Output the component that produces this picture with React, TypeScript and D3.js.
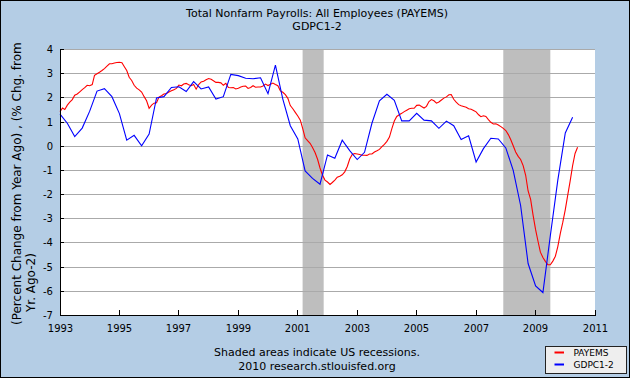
import React from 'react';
import * as d3 from 'd3';

// PAYEMS: percent change from year ago, monthly from Jan 1993
const payemsStart = [1993, 0];
const payemsValues = [
  1.43, 1.58, 1.52, 1.70, 1.82, 1.93, 2.11, 2.16, 2.25, 2.34, 2.42, 2.52,
  2.50, 2.55, 2.93, 3.00, 3.06, 3.13, 3.21, 3.31, 3.41, 3.41, 3.44, 3.46,
  3.47, 3.45, 3.30, 3.13, 2.85, 2.72, 2.52, 2.40, 2.33, 2.24, 2.05, 1.88,
  1.57, 1.70, 1.78, 1.80, 2.03, 2.09, 2.16, 2.18, 2.24, 2.29, 2.34, 2.39,
  2.53, 2.50, 2.57, 2.60, 2.54, 2.50, 2.55, 2.36, 2.55, 2.66, 2.69, 2.75,
  2.80, 2.77, 2.71, 2.64, 2.64, 2.62, 2.52, 2.60, 2.43, 2.42, 2.43, 2.37,
  2.40, 2.45, 2.48, 2.49, 2.39, 2.43, 2.50, 2.44, 2.45, 2.45, 2.49, 2.57,
  2.51, 2.56, 2.61, 2.55, 2.50, 2.29, 2.23, 2.13, 1.98, 1.68, 1.55, 1.40,
  1.25, 1.08, 0.75, 0.35, 0.23, 0.12, -0.05, -0.26, -0.54, -0.90, -1.20, -1.40,
  -1.48, -1.58, -1.50, -1.40, -1.28, -1.24, -1.18, -1.06, -0.84, -0.53, -0.34, -0.30,
  -0.32, -0.34, -0.37, -0.37, -0.38, -0.32, -0.32, -0.24, -0.19, -0.13, -0.02, 0.08,
  0.20, 0.38, 0.72, 1.04, 1.23, 1.30, 1.36, 1.43, 1.49, 1.55, 1.57, 1.57,
  1.69, 1.70, 1.64, 1.58, 1.65, 1.85, 1.93, 1.88, 1.78, 1.83, 1.91, 1.99,
  2.04, 2.13, 2.14, 1.94, 1.82, 1.72, 1.67, 1.64, 1.61, 1.55, 1.53, 1.48,
  1.42, 1.30, 1.22, 1.26, 1.23, 1.10, 0.99, 0.92, 0.93, 0.88, 0.81, 0.74,
  0.65, 0.48, 0.28, 0.02, -0.24, -0.42, -0.55, -0.80, -1.20, -1.85, -2.20, -2.85,
  -3.45, -3.95, -4.38, -4.60, -4.76, -4.90, -4.90, -4.75, -4.55, -4.15, -3.60, -3.15,
  -2.62, -2.00, -1.45, -0.80, -0.30, -0.04,
];

// GDPC1-2: real GDP percent change from year ago minus 2, quarterly from 1993Q1
const gdpStart = [1993, 0];
const gdpValues = [
  1.33, 0.95, 0.40, 0.75, 1.45, 2.28, 2.38, 2.05,
  1.35, 0.25, 0.45, 0.02, 0.50, 2.00, 2.05, 2.43,
  2.46, 2.26, 2.67, 2.37, 2.45, 1.95, 2.05, 2.97,
  2.92, 2.81, 2.79, 2.83, 2.17, 3.35, 1.95, 0.85,
  0.30, -1.02, -1.33, -1.57, -0.36, -0.50, 0.25, -0.18,
  -0.55, -0.25, 0.95, 1.88, 2.15, 1.90, 1.05, 1.05,
  1.36, 1.08, 1.05, 0.74, 1.04, 0.85, 0.28, 0.43,
  -0.65, -0.10, 0.33, 0.30, -0.07, -1.00, -2.45, -4.85,
  -5.78, -6.05, -3.70, -1.40, 0.55, 1.20,
];

const recessionStarts = ['2001-03-01', '2007-12-01'];
const recessionEnds = ['2001-11-15', '2009-07-01'];

const xTickYears = [1993, 1995, 1997, 1999, 2001, 2003, 2005, 2007, 2009, 2011];
const yTickValues = [4, 3, 2, 1, 0, -1, -2, -3, -4, -5, -6, -7];

const seriesNames = ['PAYEMS', 'GDPC1-2'];
const seriesColors = ['#ff0000', '#0000ff'];

const W = 630;
const H = 378;
const FONT = "'DejaVu Sans', Verdana, sans-serif";

export default function App() {
  const x = d3
    .scaleTime()
    .domain([new Date(1993, 0, 1), new Date(2011, 0, 1)])
    .range([60, 595]);
  const y = d3.scaleLinear().domain([-7, 4]).range([315.5, 49.5]);

  const redPts = payemsValues.map((v, i) => ({
    d: new Date(payemsStart[0], payemsStart[1] + i, 1),
    v,
  }));
  const bluePts = gdpValues.map((v, i) => ({
    d: new Date(gdpStart[0], gdpStart[1] + i * 3, 1),
    v,
  }));

  const line = d3
    .line<{ d: Date; v: number }>()
    .x((p) => x(p.d))
    .y((p) => y(p.v));

  const px = (v: number) => Math.floor(v) + 0.5;
  const left = 60;
  const right = 595;
  const top = 49;
  const bottom = 315;

  return (
    <svg
      width={W}
      height={H}
      style={{ position: 'absolute', left: 0, top: 0 }}
      fontFamily={FONT}
    >
      <rect x={0} y={0} width={W} height={H} fill="#b4cde5" />
      <rect x={0.5} y={0.5} width={W - 1} height={H - 1} fill="none" stroke="#000" />

      {/* titles */}
      <text x={317} y={17} fontSize={11} textAnchor="middle" fill="#000">
        Total Nonfarm Payrolls: All Employees (PAYEMS)
      </text>
      <text x={317} y={30} fontSize={11} textAnchor="middle" fill="#000">
        GDPC1-2
      </text>

      {/* plot area */}
      <rect x={left} y={top} width={right - left} height={bottom - top} fill="#fff" />

      {recessionStarts.map((s, i) => {
        const x0 = x(new Date(s));
        const x1 = x(new Date(recessionEnds[i]));
        return (
          <rect key={s} x={x0} y={top} width={x1 - x0} height={bottom - top} fill="#bebebe" />
        );
      })}

      {yTickValues.map((v) => (
        <line
          key={'g' + v}
          x1={left}
          x2={right}
          y1={px(y(v))}
          y2={px(y(v))}
          stroke="#aaaaaa"
          strokeWidth={1}
        />
      ))}

      {/* series */}
      <path d={line(redPts) || ''} fill="none" stroke={seriesColors[0]} strokeWidth={1.1} />
      <path d={line(bluePts) || ''} fill="none" stroke={seriesColors[1]} strokeWidth={1.1} />

      {/* axes */}
      <line x1={px(left)} x2={px(left)} y1={top} y2={bottom + 1} stroke="#000" />
      <line x1={left} x2={right + 1} y1={px(bottom)} y2={px(bottom)} stroke="#000" />

      {yTickValues.map((v) => (
        <g key={'yt' + v}>
          <line x1={left} x2={left + 4} y1={px(y(v))} y2={px(y(v))} stroke="#000" />
          <text x={53} y={y(v) + 3.5} fontSize={10} textAnchor="end" fill="#000">
            {v}
          </text>
        </g>
      ))}

      {xTickYears.map((yr) => {
        const xx = px(x(new Date(yr, 0, 1)));
        return (
          <g key={'xt' + yr}>
            <line x1={xx} x2={xx} y1={bottom} y2={bottom - 5} stroke="#000" />
            <text x={xx} y={331.5} fontSize={10} textAnchor="middle" fill="#000">
              {yr}
            </text>
          </g>
        );
      })}

      {/* y axis title */}
      <text transform="translate(21,325) rotate(-90)" fontSize={12} fill="#000">
        (Percent Change from Year Ago) , (% Chg. from
      </text>
      <text transform="translate(35,312) rotate(-90)" fontSize={12} fill="#000">
        Yr. Ago-2)
      </text>

      {/* footer */}
      <text x={317} y={356} fontSize={11} textAnchor="middle" fill="#000">
        Shaded areas indicate US recessions.
      </text>
      <text x={317} y={369.5} fontSize={11} textAnchor="middle" fill="#000">
        2010 research.stlouisfed.org
      </text>

      {/* legend */}
      <rect x={545.5} y={346.5} width={81} height={27} fill="#eeeeee" stroke="#222" />
      {seriesNames.map((n, i) => (
        <g key={n}>
          <line
            x1={554.5}
            x2={564}
            y1={352.5 + i * 12}
            y2={352.5 + i * 12}
            stroke={seriesColors[i]}
            strokeWidth={2}
          />
          <text x={573.5} y={355.8 + i * 12} fontSize={9} fill="#000">
            {n}
          </text>
        </g>
      ))}
    </svg>
  );
}
